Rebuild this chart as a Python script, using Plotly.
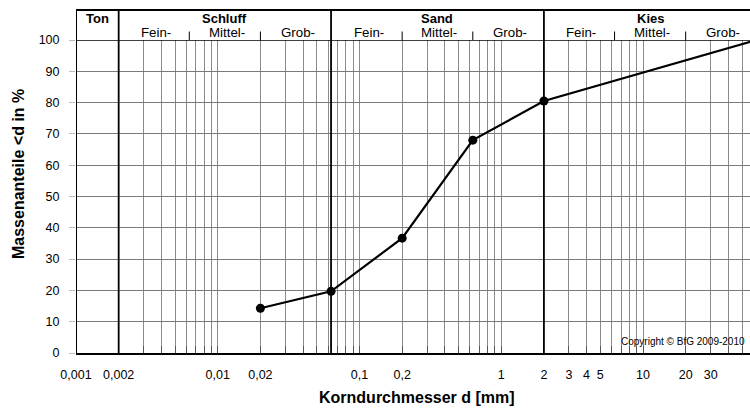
import numpy as np
import plotly.graph_objects as go

# ---- data ----
diam_mm = [0.02, 0.063, 0.2, 0.63, 2.0, 63.0]
pass_pct = [14.3, 19.7, 36.7, 68.0, 80.5, 100.0]

fraction_names = ["Ton", "Schluff", "Sand", "Kies"]
fraction_bounds = [0.001, 0.002, 0.063, 2.0, 63.0]
sub_names = ["Fein-", "Mittel-", "Grob-"]
sub_bounds = [
    [0.002, 0.0063, 0.02, 0.063],
    [0.063, 0.2, 0.63, 2.0],
    [2.0, 6.3, 20.0, 63.0],
]

label_vals = [0.001, 0.002, 0.01, 0.02, 0.1, 0.2, 1, 2, 3, 4, 5, 10, 20, 30]
label_text = ["0,001", "0,002", "0,01", "0,02", "0,1", "0,2", "1", "2", "3", "4", "5", "10", "20", "30"]
grid_vals = ([0.003, 0.004, 0.005, 0.006, 0.007, 0.008, 0.009, 0.01,
              0.02, 0.03, 0.04, 0.05, 0.06, 0.07, 0.08, 0.09, 0.1,
              0.2, 0.3, 0.4, 0.5, 0.6, 0.7, 0.8, 0.9, 1,
              3, 4, 5, 6, 7, 8, 9, 10, 20, 30, 40, 50])
y_ticks = list(range(0, 101, 10))

# ---- layout geometry ----
W, H = 750, 412
ML, MR, MT, MB = 76, 0, 40, 59
plot_h = H - MT - MB
header_top = 1 + 30 / plot_h
sub_row_y = 1 + 8 / plot_h
main_row_y = 1 + 21.5 / plot_h
subtick_top = 1 + 8.5 / plot_h
FONT = "Liberation Sans, Arial, sans-serif"

all_ticks = sorted(set(label_vals + grid_vals))
tick_text = [label_text[label_vals.index(v)] if v in label_vals else "" for v in all_ticks]

fig = go.Figure()
fig.add_trace(go.Scatter(
    x=diam_mm, y=pass_pct, mode="lines+markers",
    line=dict(color="black", width=2.2),
    marker=dict(color="black", size=9),
    showlegend=False, hoverinfo="skip",
))

shapes = []
# outer / header frame
shapes.append(dict(type="line", xref="x", yref="paper", x0=fraction_bounds[0], x1=fraction_bounds[0],
                   y0=0, y1=header_top, line=dict(color="black", width=2)))
shapes.append(dict(type="line", xref="paper", yref="paper", x0=0, x1=1.02,
                   y0=header_top, y1=header_top, line=dict(color="black", width=2)))
shapes.append(dict(type="line", xref="paper", yref="y", x0=0, x1=1.02,
                   y0=100, y1=100, line=dict(color="black", width=1.5)))
for b in fraction_bounds[1:-1]:
    shapes.append(dict(type="line", xref="x", yref="paper", x0=b, x1=b,
                       y0=0, y1=header_top, line=dict(color="black", width=1.8)))
for sb in sub_bounds:
    for b in sb[1:-1]:
        shapes.append(dict(type="line", xref="x", yref="paper", x0=b, x1=b,
                           y0=1, y1=subtick_top, line=dict(color="black", width=1)))

annotations = []
for i, name in enumerate(fraction_names):
    xm = (np.log10(fraction_bounds[i]) + np.log10(fraction_bounds[i + 1])) / 2
    annotations.append(dict(x=xm, y=main_row_y, xref="x", yref="paper", text="<b>%s</b>" % name,
                            showarrow=False, font=dict(family=FONT, size=13, color="black"),
                            xanchor="center", yanchor="middle"))
for sb in sub_bounds:
    for j, name in enumerate(sub_names):
        xm = (np.log10(sb[j]) + np.log10(sb[j + 1])) / 2
        annotations.append(dict(x=xm, y=sub_row_y, xref="x", yref="paper", text=name,
                                showarrow=False, font=dict(family=FONT, size=13.3, color="black"),
                                xanchor="center", yanchor="middle", xshift=2))
annotations.append(dict(x=(417 - ML) / (W - ML - MR), y=-44 / plot_h, xref="paper", yref="paper",
                        text="<b>Korndurchmesser d [mm]</b>", showarrow=False,
                        font=dict(family=FONT, size=16, color="black"),
                        xanchor="center", yanchor="middle"))
annotations.append(dict(x=-58 / (W - ML - MR), y=(353 - 174) / plot_h, xref="paper", yref="paper",
                        text="<b>Massenanteile &lt;d in %</b>", showarrow=False, textangle=-90,
                        font=dict(family=FONT, size=16, color="black"),
                        xanchor="center", yanchor="middle"))
annotations.append(dict(x=(619 - ML) / (W - ML - MR), y=12 / plot_h, xref="paper", yref="paper",
                        text="Copyright © BfG 2009-2010", showarrow=False,
                        font=dict(family=FONT, size=10, color="black"),
                        xanchor="left", yanchor="middle", bgcolor="rgba(0,0,0,0)"))

x_end = np.log10(fraction_bounds[0]) + (W - ML - MR) / 141.75

fig.update_layout(
    width=W, height=H,
    margin=dict(l=ML, r=MR, t=MT, b=MB, pad=0),
    paper_bgcolor="white", plot_bgcolor="white",
    font=dict(family=FONT, size=12.5, color="black"),
    shapes=shapes, annotations=annotations,
    xaxis=dict(type="log", range=[np.log10(fraction_bounds[0]), x_end],
               tickmode="array", tickvals=all_ticks, ticktext=tick_text,
               showgrid=True, gridcolor="#8c8c8c", gridwidth=1,
               ticks="inside", ticklen=7, tickcolor="#555", tickwidth=1,
               showline=True, linecolor="black", linewidth=2,
               ticklabelstandoff=9, zeroline=False,
               tickfont=dict(family=FONT, size=12.5, color="black")),
    yaxis=dict(range=[0, 100], tickmode="array", tickvals=y_ticks,
               showgrid=True, gridcolor="#7a7a7a", gridwidth=1,
               ticks="outside", ticklen=6, tickcolor="#bbb",
               showline=False, zeroline=False, ticklabelstandoff=7,
               tickfont=dict(family=FONT, size=12.5, color="black")),
)

fig.write_html("out.html", config={"displayModeBar": False, "staticPlot": True},
               post_script="document.body.style.margin='0px';document.body.style.overflow='hidden';")
